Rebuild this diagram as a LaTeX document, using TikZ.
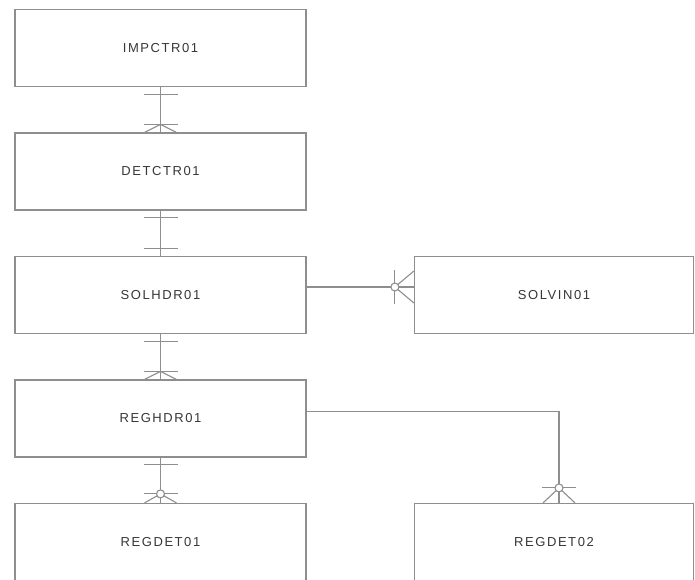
\documentclass[tikz,border=0pt]{standalone}
\usepackage{fontspec}
\setmainfont{Liberation Sans}[LetterSpace=12]
\usetikzlibrary{positioning}

\definecolor{linegray}{HTML}{8E8E8E}
\definecolor{textgray}{HTML}{363636}

\tikzset{
  tablebox/.style={draw=linegray, line width=1.2pt, minimum width=291pt, minimum height=77pt,
     inner sep=0pt, text=textgray, font=\fontsize{13}{15}\selectfont},
  link/.style={draw=linegray, line width=1.1pt},
  pics/onebar/.style={code={\draw[link] (-17pt,7pt) -- (17pt,7pt);}},
  pics/onemany/.style={code={
     \draw[link] (-17pt,8pt) -- (17pt,8pt);
     \draw[link] (-16pt,0pt) -- (0pt,8pt) -- (16pt,0pt);}},
  pics/zeromany/.style={code={
     \draw[link] (-17pt,#1) -- (17pt,#1);
     \draw[link] (-16pt,0pt) -- (0pt,#1) -- (16pt,0pt);
     \draw[link, fill=white] (0pt,#1) circle (4pt);}},
}

\begin{document}
\begin{tikzpicture}[node distance=123.5pt and 393.5pt, on grid]
   \useasboundingbox (0,0) rectangle (695pt,-579pt);
   \node[tablebox] (impctr) at (160.5pt,-48pt) {IMPCTR01};
   \node[tablebox] (detctr) [below=of impctr] {DETCTR01};
   \node[tablebox] (solhdr) [below=of detctr] {SOLHDR01};
   \node[tablebox] (reghdr) [below=of solhdr] {REGHDR01};
   \node[tablebox] (regdet01) [below=of reghdr] {REGDET01};
   \node[tablebox, minimum width=279pt] (solvin) [right=of solhdr] {SOLVIN01};
   \node[tablebox, minimum width=279pt] (regdet02) [right=of regdet01] {REGDET02};
   \path[link]
   (impctr) edge (detctr)
   (detctr) edge (solhdr)
   (solhdr) edge (reghdr)
   (reghdr) edge (regdet01)
   ([yshift=8pt]solhdr.east) edge ([yshift=8pt]solvin.west);
   \draw[link] ([yshift=7pt]reghdr.east) -| ([xshift=5pt]regdet02.north);
   \pic[rotate=180] at (impctr.south) {onebar};
   \pic at (detctr.north) {onemany};
   \pic[rotate=180] at (detctr.south) {onebar};
   \pic at (solhdr.north) {onebar};
   \pic[rotate=180] at (solhdr.south) {onebar};
   \pic at (reghdr.north) {onemany};
   \pic[rotate=180] at (reghdr.south) {onebar};
   \pic at (regdet01.north) {zeromany=9pt};
   \pic[rotate=90] at ([yshift=8pt]solvin.west) {zeromany=19pt};
   \pic at ([xshift=5pt]regdet02.north) {zeromany=15pt};
\end{tikzpicture}
\end{document}
